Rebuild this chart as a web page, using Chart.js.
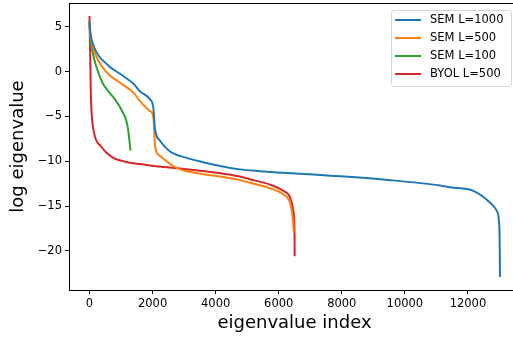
<!DOCTYPE html>
<html><head><meta charset="utf-8">
<script src="https://cdn.jsdelivr.net/npm/chart.js@4"></script>
<style>
html,body{margin:0;padding:0;overflow:hidden;background:#fff;width:513px;height:337px}
#wrap{width:521px;height:337px;position:relative}
</style>
</head><body><div id="wrap"><canvas id="c" width="521" height="337"></canvas></div>
<script>
const seriesLabels = ["SEM L=1000", "SEM L=500", "SEM L=100", "BYOL L=500"];
const seriesColors = ["#1f77b4", "#ff7f0e", "#2ca02c", "#d62728"];

const semL1000Idx = [0, 20, 140, 560, 990, 1410, 1600, 1918, 2023, 2050, 2077, 2235, 2552, 2869, 3600, 4770, 5406, 7625, 9527, 11113, 11430, 12169, 12698, 12911, 12993, 13008, 13015];
const semL1000Val = [5.6, 4.6, 2.8, 0.8, -0.3, -1.4, -2.2, -3.1, -4.0, -5.2, -6.4, -7.7, -8.9, -9.4, -10.1, -10.9, -11.1, -11.6, -12.1, -12.7, -12.9, -13.3, -14.6, -15.5, -17.2, -20.0, -22.9];

const semL500Idx = [0, 20, 140, 565, 990, 1410, 1601, 1918, 2023, 2050, 2077, 2235, 2552, 2869, 3082, 4775, 5088, 5723, 6145, 6357, 6430, 6460, 6480];
const semL500Val = [5.5, 4.4, 2.4, -0.15, -1.3, -2.4, -3.3, -4.4, -5.0, -6.5, -8.3, -9.4, -10.3, -10.9, -11.1, -12.1, -12.4, -13.0, -13.7, -14.6, -15.9, -17.0, -18.0];

const semL100Idx = [0, 30, 90, 230, 420, 600, 850, 1050, 1170, 1230, 1270, 1300];
const semL100Val = [5.5, 3.8, 2.3, 0.4, -1.3, -2.2, -3.3, -4.5, -5.5, -6.6, -7.8, -8.8];

const byolL500Idx = [0, 10, 25, 40, 60, 143, 355, 700, 1200, 1800, 2550, 2870, 4770, 5088, 5723, 6145, 6357, 6462, 6500, 6506];
const byolL500Val = [6.2, 4.0, 1.0, -2.0, -4.2, -6.8, -8.3, -9.5, -10.1, -10.4, -10.7, -10.8, -11.7, -12.0, -12.6, -13.3, -14.0, -15.5, -17.7, -20.6];

const xTicks = [0, 2000, 4000, 6000, 8000, 10000, 12000];
const yTicks = [-20, -15, -10, -5, 0, 5];
const xTitle = "eigenvalue index";
const yTitle = "log eigenvalue";

function pts(xs, ys){ return xs.map((x,i)=>({x:x, y:ys[i]})); }
const allIdx = [semL1000Idx, semL500Idx, semL100Idx, byolL500Idx];
const allVal = [semL1000Val, semL500Val, semL100Val, byolL500Val];

const FONT = "'DejaVu Sans', sans-serif";

const frame = {
  id: 'frame',
  afterDraw(chart){
    const {ctx, chartArea:a} = chart;
    ctx.save();
    ctx.strokeStyle = '#000';
    ctx.lineWidth = 1;
    ctx.beginPath();
    const t = Math.round(a.top) + 0.5;
    ctx.moveTo(Math.round(a.left), t); ctx.lineTo(Math.round(a.right), t);
    ctx.stroke();
    ctx.restore();
  }
};

const mplLegend = {
  id: 'mplLegend',
  afterDraw(chart){
    const ctx = chart.ctx;
    const x0 = 391.5, y0 = 10.5, w = 120, h = 76, r = 3;
    ctx.save();
    ctx.beginPath();
    ctx.moveTo(x0+r, y0);
    ctx.lineTo(x0+w-r, y0); ctx.arcTo(x0+w, y0, x0+w, y0+r, r);
    ctx.lineTo(x0+w, y0+h-r); ctx.arcTo(x0+w, y0+h, x0+w-r, y0+h, r);
    ctx.lineTo(x0+r, y0+h); ctx.arcTo(x0, y0+h, x0, y0+h-r, r);
    ctx.lineTo(x0, y0+r); ctx.arcTo(x0, y0, x0+r, y0, r);
    ctx.closePath();
    ctx.fillStyle = 'rgba(255,255,255,0.8)';
    ctx.fill();
    ctx.strokeStyle = '#d4d4d4';
    ctx.lineWidth = 1;
    ctx.stroke();
    ctx.font = "11.5px " + FONT;
    ctx.textBaseline = 'middle';
    ctx.textAlign = 'left';
    chart.data.datasets.forEach((ds, i) => {
      const y = 20 + i*18;
      ctx.strokeStyle = ds.borderColor;
      ctx.lineWidth = 2;
      ctx.beginPath(); ctx.moveTo(395, y); ctx.lineTo(421, y); ctx.stroke();
      ctx.fillStyle = '#000';
      ctx.fillText(ds.label, 430, y);
    });
    ctx.restore();
  }
};

new Chart(document.getElementById('c'), {
  type: 'scatter',
  data: {
    datasets: seriesLabels.map((lab, i) => ({
      label: lab,
      data: pts(allIdx[i], allVal[i]),
      showLine: true,
      borderColor: seriesColors[i],
      backgroundColor: seriesColors[i],
      borderWidth: 2,
      pointRadius: 0,
      pointHoverRadius: 0,
      cubicInterpolationMode: 'monotone',
      fill: false
    }))
  },
  options: {
    responsive: false,
    animation: false,
    devicePixelRatio: 1,
    layout: { padding: { left: 0, top: 3, right: 1, bottom: 0 } },
    plugins: { legend: { display: false }, tooltip: { enabled: false } },
    scales: {
      x: {
        type: 'linear', min: -650, max: 13650,
        afterBuildTicks: s => { s.ticks = xTicks.map(v => ({value: v})); },
        afterFit: s => { s.height = 47; s.paddingLeft = 0; s.paddingRight = 0; },
        grid: { drawOnChartArea: false, drawTicks: true, tickLength: 4, color: '#000', tickWidth: 1 },
        border: { display: true, color: '#000', width: 1 },
        ticks: { color: '#000', padding: 3, maxRotation: 0, font: { family: FONT, size: 11.5 },
                 callback: v => String(v) },
        title: { display: true, text: xTitle, color: '#000', font: { family: FONT, size: 18 }, padding: { top: 0, bottom: 3 } }
      },
      y: {
        type: 'linear', min: -24.35, max: 7.65,
        afterBuildTicks: s => { s.ticks = yTicks.map(v => ({value: v})); },
        afterFit: s => { s.width = 69; s.paddingTop = 0; s.paddingBottom = 0; },
        grid: { drawOnChartArea: false, drawTicks: true, tickLength: 4, color: '#000', tickWidth: 1 },
        border: { display: true, color: '#000', width: 1 },
        ticks: { color: '#000', padding: 3, font: { family: FONT, size: 11.5 },
                 callback: v => (v < 0 ? '\u2212' + Math.abs(v) : String(v)) },
        title: { display: true, text: yTitle, color: '#000', font: { family: FONT, size: 18 }, padding: { top: 8, bottom: 0 } }
      }
    }
  },
  plugins: [frame, mplLegend]
});
</script>
</body></html>
